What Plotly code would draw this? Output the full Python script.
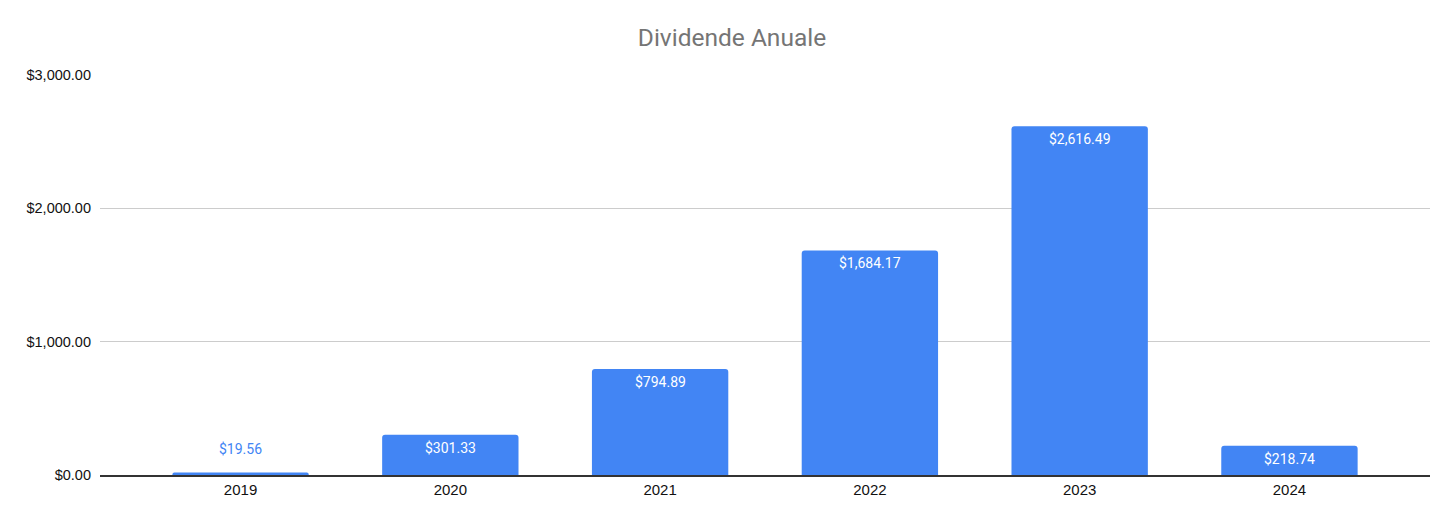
import plotly.graph_objects as go

years = ["2019", "2020", "2021", "2022", "2023", "2024"]
dividends = [19.56, 301.33, 794.89, 1684.17, 2616.49, 218.74]
y_ticks = [0, 1000, 2000, 3000]
y_tick_labels = ["$0.00", "$1,000.00", "$2,000.00", "$3,000.00"]

BLUE = "#4285F4"

fig = go.Figure()
fig.add_trace(go.Bar(
    x=years,
    y=dividends,
    marker=dict(color=BLUE, line=dict(width=0), cornerradius=3),
    hoverinfo="x+y",
))

# labels: inside bar top in white, above bar in blue when bar too small
for i, v in enumerate(dividends):
    inside = v > 150
    fig.add_annotation(
        x=i, y=v, text="${:,.2f}".format(v),
        showarrow=False,
        yanchor="middle",
        yshift=-13 if inside else 23,
        font=dict(family="Roboto", size=14, color="white" if inside else BLUE),
    )

# page body has an 8px margin, so the figure is shrunk by that much
fig.update_layout(
    width=1448, height=515,
    paper_bgcolor="white", plot_bgcolor="white",
    margin=dict(l=92, r=26, t=67, b=48),
    title=dict(text="Dividende Anuale", x=0.5, xanchor="center", y=0.942, yanchor="middle",
               font=dict(family="Roboto", size=24.5, color="#757575")),
    bargap=0.35,
    showlegend=False,
    font=dict(family="Liberation Sans, Arial", size=14, color="#000000"),
)
fig.update_xaxes(
    type="category", range=[-0.67, 5.67],
    showline=True, linecolor="#333333", linewidth=1.5,
    showgrid=False, ticks="", tickfont=dict(size=15, color="#111111"),
)
fig.update_yaxes(
    range=[0, 3000], tickvals=y_ticks, ticktext=y_tick_labels,
    showgrid=True, gridcolor="#cccccc", gridwidth=1,
    zeroline=False, showline=False, ticks="", ticklabelstandoff=8,
    tickfont=dict(size=14.5, color="#111111"),
)

fig.write_html("out.html")
